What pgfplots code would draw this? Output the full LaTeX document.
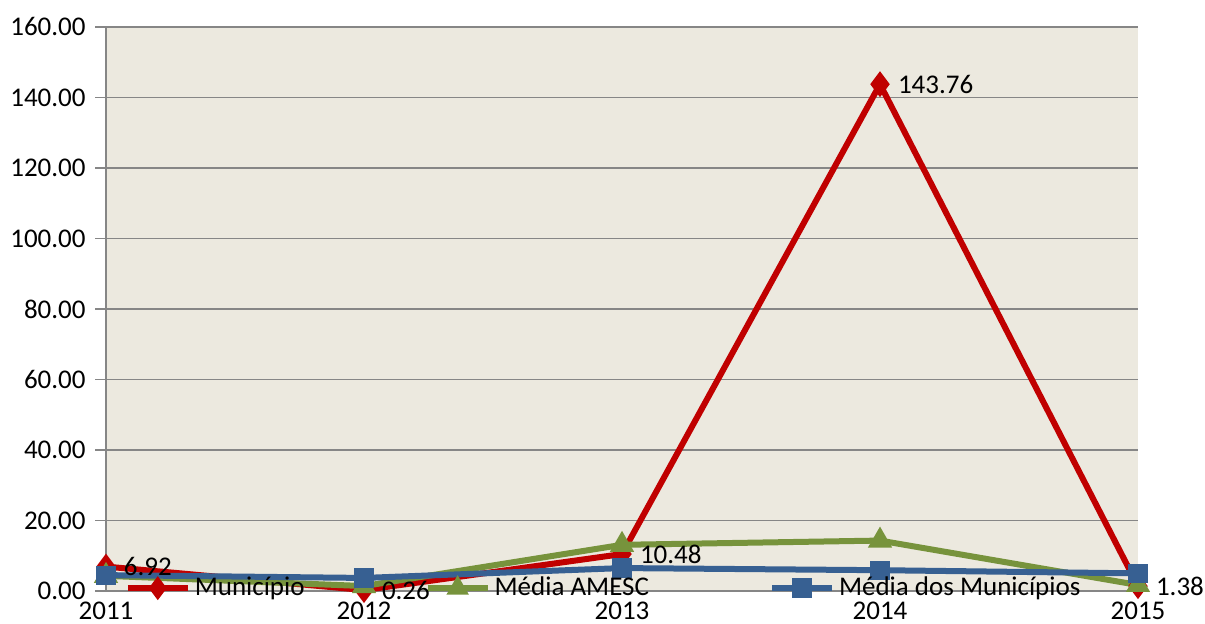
\documentclass[border=0pt]{standalone}
\usepackage{pgfplots}
\pgfplotsset{compat=1.18}
\usepackage{fontspec}
\setmainfont{Carlito}
\definecolor{bgc}{RGB}{236,233,223}
\definecolor{gridc}{RGB}{134,134,134}
\definecolor{cred}{RGB}{192,0,0}
\definecolor{cgreen}{RGB}{119,147,60}
\definecolor{cblue}{RGB}{55,96,146}
\begin{document}
\fontsize{13.5}{16}\selectfont
\begin{tikzpicture}
\begin{axis}[
  name=ax,
  scale only axis,
  width=516pt, height=282pt,
  xmin=2011, xmax=2015, ymin=0, ymax=160,
  xtick={2011,2012,2013,2014,2015},
  ytick={0,20,...,160},
  axis x line=bottom, axis y line=left,
  axis line style={-, draw=gridc, line width=0.8pt},
  axis background/.style={fill=bgc},
  ymajorgrids, grid style={gridc, line width=0.8pt},
  xtick style={draw=none},
  ytick style={draw=gridc, line width=0.8pt},
  tick align=outside, major tick length=5.5pt,
  x tick label style={/pgf/number format/1000 sep={}, yshift=4.5pt},
  y tick label style={/pgf/number format/.cd, fixed, fixed zerofill, precision=2},
  /pgf/number format/assume math mode=true,
  tick label style={font=\fontsize{13.5}{16}\selectfont},
  clip=false,
  legend columns=3,
  legend style={draw=none, fill=none, at={(0.012,0.005)}, anchor=west,
    font=\fontsize{13.5}{16}\selectfont, /tikz/every even column/.append style={column sep=58pt}},
  legend image code/.code={
    \draw[#1, mark=none] (0pt,0pt) -- (30pt,0pt);
    \draw[#1, only marks, mark size=3.5pt] plot coordinates {(15pt,0pt)};
  },
]
\addplot[cred, line width=3pt, mark=diamond*, mark size=4pt, mark options={solid},
  nodes near coords, point meta=explicit symbolic,
  every node near coord/.append style={anchor=west, xshift=3pt, text=black, font=\fontsize{13.5}{16}\selectfont}]
  coordinates {(2011,6.92)[6.92] (2012,0.26)[0.26] (2013,10.48)[10.48] (2014,143.76)[143.76] (2015,1.38)[1.38]};
\addlegendentry{Município}
\addplot[cgreen, line width=3pt, mark=triangle*, mark size=4pt]
  coordinates {(2011,4.3) (2012,1.4) (2013,13.1) (2014,14.3) (2015,1.7)};
\addlegendentry{Média AMESC}
\addplot[cblue, line width=3pt, mark=square*, mark size=3.3pt]
  coordinates {(2011,4.5) (2012,3.7) (2013,6.5) (2014,5.9) (2015,5.0)};
\addlegendentry{Média dos Municípios}
\end{axis}
\pgfresetboundingbox
\path (ax.south west) ++(-53pt,-16.5pt) rectangle ([shift={(33.5pt,13.5pt)}]ax.north east);
\end{tikzpicture}
\end{document}
